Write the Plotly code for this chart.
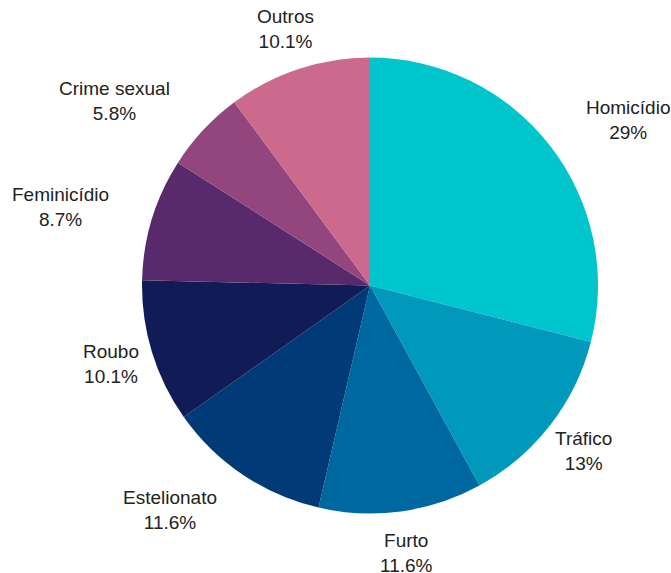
import math
import plotly.graph_objects as go

# Case counts per crime category
categories = ["Homicídio", "Tráfico", "Furto", "Estelionato", "Roubo",
              "Feminicídio", "Crime sexual", "Outros"]
counts = [20, 9, 8, 8, 7, 6, 4, 7]
colors = ["#00C5CD", "#0099BC", "#0068A0", "#003B78", "#111B55",
          "#582A6C", "#92467D", "#CB6A8C"]

# horizontal anchoring of each outside label block
label_align = {
    "Homicídio": "left", "Tráfico": "center", "Furto": "center",
    "Estelionato": "right", "Roubo": "center", "Feminicídio": "right",
    "Crime sexual": "right", "Outros": "center",
}

W, H = 671, 573
FONT = dict(family="Liberation Sans, Arial, sans-serif", size=19, color="#222222")

# pie placement (paper fractions)
dom_x = [142 / W, 598 / W]
dom_y = [(H - 514) / H, (H - 57) / H]
radius_px = (dom_y[1] - dom_y[0]) * H / 2
label_gap_px = 42

fig = go.Figure(go.Pie(
    labels=categories,
    values=counts,
    sort=False,
    direction="clockwise",
    rotation=0,
    marker=dict(colors=colors, line=dict(width=0)),
    textinfo="none",
    showlegend=False,
    hoverinfo="label+percent",
    domain=dict(x=dom_x, y=dom_y),
))

# outside labels: name + percentage, placed along each slice's mid-angle
total = sum(counts)
cx = (dom_x[0] + dom_x[1]) / 2
cy = (dom_y[0] + dom_y[1]) / 2
cum = 0
annotations = []
for name, v in zip(categories, counts):
    mid = (cum + v / 2) / total * 2 * math.pi
    cum += v
    dist = radius_px + label_gap_px
    ax = cx + dist * math.sin(mid) / W
    ay = cy + dist * math.cos(mid) / H
    pct = f"{100 * v / total:.3g}%"
    annotations.append(dict(
        x=ax, y=ay, xref="paper", yref="paper", text=f"{name}<br>{pct}",
        showarrow=False, xanchor=label_align[name], yanchor="middle",
        align="center", font=FONT,
    ))

fig.update_layout(
    width=W,
    height=H,
    margin=dict(l=0, r=0, t=0, b=0),
    paper_bgcolor="white",
    plot_bgcolor="white",
    font=FONT,
    annotations=annotations,
)

fig.write_html("out.html")
